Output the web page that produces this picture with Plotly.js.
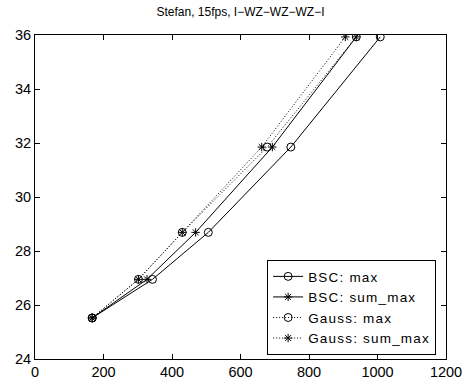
<!DOCTYPE html>
<html>
<head>
<meta charset="utf-8">
<script src="https://cdn.plot.ly/plotly-3.0.1.min.js"></script>
<style>
html,body{margin:0;padding:0;background:#fff;}
#chart{width:468px;height:385px;}
text.legendtext{letter-spacing:1.2px;}
</style>
</head>
<body>
<div id="chart"></div>
<script>
// Data
const titleText = "Stefan, 15fps, I\u2212WZ\u2212WZ\u2212WZ\u2212I";
const seriesNames = ["BSC: max", "BSC: sum_max", "Gauss: max", "Gauss: sum_max"];
const psnr = [25.52, 26.95, 28.69, 31.85, 35.93];
const bscMaxRate = [167, 343, 506, 747, 1008];
const bscSumMaxRate = [167, 327, 469, 693, 938];
const gaussMaxRate = [167, 302, 430, 678, 938];
const gaussSumMaxRate = [167, 302, 430, 662, 906];
const xTicks = [0, 200, 400, 600, 800, 1000, 1200];
const yTicks = [24, 26, 28, 30, 32, 34, 36];

const font = "Liberation Sans, Arial, Helvetica, sans-serif";
function trace(x, name, symbol, dash) {
  return {
    x: x, y: psnr, name: name, type: "scatter", mode: "lines+markers",
    line: {color: "#000", width: 1, dash: dash},
    marker: {symbol: symbol, size: symbol === "circle-open" ? 8 : 7, color: "#000", line: {color: "#000", width: 1}}
  };
}
const data = [
  trace(bscMaxRate, seriesNames[0], "circle-open", "solid"),
  trace(bscSumMaxRate, seriesNames[1], "asterisk-open", "solid"),
  trace(gaussMaxRate, seriesNames[2], "circle-open", "1px,2px"),
  trace(gaussSumMaxRate, seriesNames[3], "asterisk-open", "1px,2px")
];
const axisCommon = {
  showgrid: false, zeroline: false, showline: true, linecolor: "#000", linewidth: 1,
  mirror: "ticks", ticks: "inside", ticklen: 5, tickcolor: "#000", tickwidth: 1,
  tickfont: {family: font, size: 14.5, color: "#000"}
};
const layout = {
  width: 468, height: 385,
  margin: {l: 35, r: 22, t: 35, b: 26},
  paper_bgcolor: "#fff", plot_bgcolor: "#fff",
  title: {text: titleText, font: {family: font, size: 12, color: "#000"}, xref: "paper", x: 0.5, xanchor: "center", y: 0.97, yanchor: "middle"},
  xaxis: Object.assign({}, axisCommon, {range: [0, 1200], tickvals: xTicks, ticktext: xTicks.map(String)}),
  yaxis: Object.assign({}, axisCommon, {range: [24, 36], tickvals: yTicks, ticktext: yTicks.map(String)}),
  showlegend: true,
  legend: {
    x: 0.976, xanchor: "right", y: 0.012, yanchor: "bottom",
    bgcolor: "#fff", bordercolor: "#000", borderwidth: 1,
    font: {family: font, size: 13.5, color: "#000"},
    tracegroupgap: 0
  }
};
Plotly.newPlot("chart", data, layout, {displayModeBar: false, staticPlot: true});
</script>
</body>
</html>
